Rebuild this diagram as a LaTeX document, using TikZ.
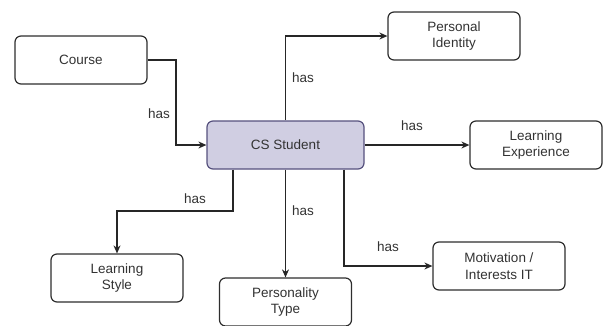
\documentclass[tikz,border=0pt]{standalone}
\usepackage{fontspec}
\setmainfont{Liberation Sans}
\usetikzlibrary{arrows.meta}
\definecolor{txt}{HTML}{333333}
\definecolor{csfill}{HTML}{D0CEE2}
\definecolor{csline}{HTML}{56517E}
\begin{document}
\begin{tikzpicture}[x=1pt,y=-1pt,
  box/.style={draw=txt!90!black,line width=1.2pt,rounded corners=6pt,fill=white,
    minimum width=132pt,minimum height=48pt,inner sep=0pt,align=center,
    text=txt,font=\fontsize{13.5}{16.5}\selectfont},
  mainbox/.style={box,fill=csfill,draw=csline,minimum width=157pt},
  lbl/.style={text=txt,font=\fontsize{13.5}{16}\selectfont,inner sep=0pt},
  arr/.style={draw=black!85,line width=1.2pt,-{Stealth[length=8pt,width=7pt]}}]
\useasboundingbox (0,0) rectangle (606,325);
\node[box] (course) at (81,60) {Course};
\node[mainbox] (cs) at (285.5,145) {CS Student};
\node[box] (pi) at (454,36) {Personal\\Identity};
\node[box] (le) at (536,145) {Learning\\Experience};
\node[box] (ls) at (117,278) {Learning\\Style};
\node[box] (pt) at (285.5,302) {Personality\\Type};
\node[box] (mi) at (499,266) {Motivation /\\Interests IT};
\coordinate (ca) at (176,60);
\coordinate (lsa) at (233,211);
\coordinate (mia) at (344,266);
\draw[arr] (course.east) -- (ca) |- (cs.west);
\draw[arr] (cs.north) |- (pi.west);
\draw[arr] (cs.east) -- (le.west);
\draw[arr] (cs.south -| lsa) -- (lsa) -| (ls.north);
\draw[arr] (cs.south) -- (pt.north);
\draw[arr] (cs.south -| mia) |- (mi.west);
\node[lbl] (h1) at (159,114) {has};
\node[lbl] (h2) at (303,78) {has};
\node[lbl] (h3) at (412,126) {has};
\node[lbl] (h4) at (195,199) {has};
\node[lbl] (h5) at (303,211) {has};
\node[lbl] (h6) at (388,247) {has};
\end{tikzpicture}
\end{document}
